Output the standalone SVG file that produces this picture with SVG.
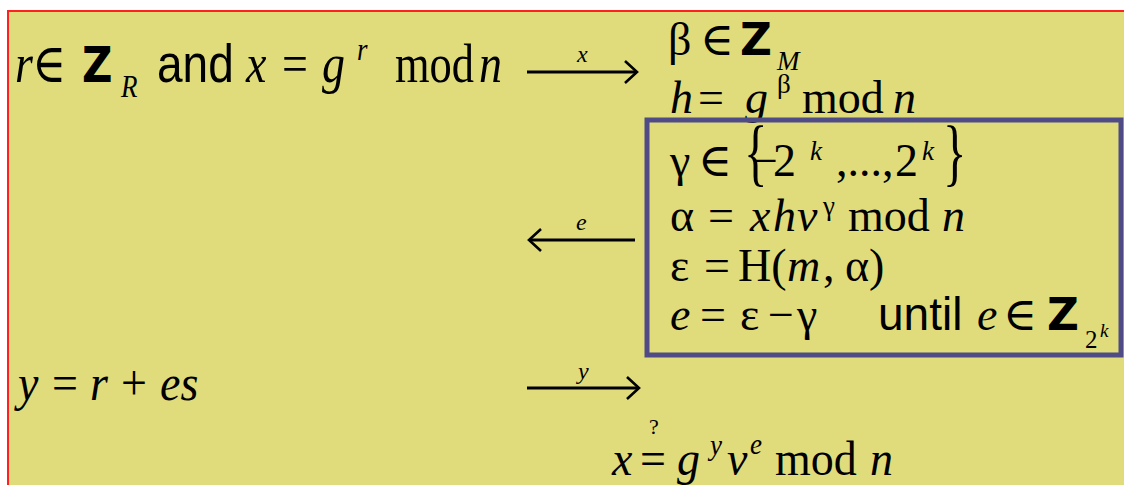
<svg xmlns="http://www.w3.org/2000/svg" width="1124" height="485" viewBox="0 0 1124 485">
<defs>
<style>
.t{font-family:"Liberation Serif","DejaVu Serif",serif;font-size:46px;fill:#000}
.i{font-style:italic}
.sa{font-family:"Liberation Sans",Arial,sans-serif;font-size:46px;fill:#000}
.z{font-family:"DejaVu Sans",sans-serif;font-weight:bold;font-size:46px;fill:#000}
.sp{font-size:27px}
.lb{font-family:"Liberation Serif",serif;font-size:24px;font-style:italic;fill:#000}
.arr{stroke:#000;stroke-width:2.8;fill:none}
</style>
<marker id="head" markerUnits="userSpaceOnUse" markerWidth="16" markerHeight="26" refX="13" refY="12" orient="auto">
<path d="M1,1 L13,12 L1,23" fill="none" stroke="#000" stroke-width="2.6"/>
</marker>
</defs>
<rect x="0" y="0" width="1124" height="485" fill="#fff"/>
<rect x="8" y="11" width="1120" height="480" fill="#E0DC7C" stroke="#FF2020" stroke-width="2"/>

<g id="prover-commit" transform="matrix(1,0,0,1.18,0,-14.76)">
<text class="t i" x="15" y="82">r</text>
<text class="t" x="32" y="82">∈</text>
<text class="z" x="82" y="82" style="font-size:42px">Z</text>
<text class="t i sp" x="121" y="94.7">R</text>
<text class="sa" x="157" y="82">and</text>
<text class="t i" x="246" y="82">x</text>
<text class="t" x="282" y="82">=</text>
<text class="t i" x="322" y="82">g</text>
<text class="t i sp" x="357" y="63">r</text>
<text class="t" x="395" y="82" textLength="79" lengthAdjust="spacingAndGlyphs">mod</text>
<text class="t i" x="479" y="82">n</text>
</g>

<g id="verifier-setup">
<text class="t" x="668" y="55">β</text>
<text class="t" x="700" y="55">∈</text>
<text class="z" x="740" y="55" style="font-size:44px">Z</text>
<text class="t i sp" x="777" y="70">M</text>
<text class="t i" x="670" y="113">h</text>
<text class="t" x="698" y="113">=</text>
<text class="t i" x="745" y="113">g</text>
<text class="t sp" x="777" y="93">β</text>
<text class="t" x="802" y="113">mod</text>
<text class="t i" x="893" y="113">n</text>
</g>

<g id="challenge-loop">
<rect x="647" y="120" width="474" height="235" fill="none" stroke="#4F4B86" stroke-width="5"/>
<text class="t" x="670" y="176">γ</text>
<text class="t" x="698" y="176">∈</text>
<text class="t" transform="translate(744,177) scale(0.65,1)" style="font-size:75px">{</text>
<text class="t" x="752" y="176">−</text>
<text class="t" x="773" y="176">2</text>
<text class="t i sp" x="810" y="160">k</text>
<text class="t" x="836" y="176">,...,</text>
<text class="t" x="895" y="176">2</text>
<text class="t i sp" x="922" y="160">k</text>
<text class="t" transform="translate(943,177) scale(0.65,1)" style="font-size:75px">}</text>

<text class="t" x="670" y="231">α</text>
<text class="t" x="708" y="231">=</text>
<text class="t i" x="750" y="231">x</text>
<text class="t i" x="773" y="231">h</text>
<text class="t i" x="797" y="231">v</text>
<text class="t sp" x="823" y="215">γ</text>
<text class="t" x="848" y="231">mod</text>
<text class="t i" x="942" y="231">n</text>

<text class="t" x="670" y="281">ε</text>
<text class="t" x="704" y="281">=</text>
<text class="t" x="738" y="281">H(</text>
<text class="t i" x="787" y="281">m</text>
<text class="t" x="823" y="281">,</text>
<text class="t" x="845" y="281">α)</text>

<text class="t i" x="670" y="330">e</text>
<text class="t" x="700" y="330">=</text>
<text class="t" x="740" y="330">ε</text>
<text class="t" x="768" y="330">−</text>
<text class="t" x="797" y="330">γ</text>
<text class="sa" x="878" y="330">until</text>
<text class="t i" x="977" y="330">e</text>
<text class="t" x="1003" y="330">∈</text>
<text class="z" x="1047" y="330" style="font-size:44px">Z</text>
<text class="t" x="1085" y="348" style="font-size:25px">2</text>
<text class="t i" x="1100" y="337" style="font-size:19px">k</text>
</g>

<g id="prover-response" transform="matrix(1,0,0,1.08,0,-32)">
<text class="t i" x="18" y="400">y</text>
<text class="t" x="52" y="400">=</text>
<text class="t i" x="90" y="400">r</text>
<text class="t" x="121" y="400">+</text>
<text class="t i" x="160" y="400">es</text>
</g>

<g id="verify">
<text class="t" x="649" y="434" style="font-size:22px">?</text>
<g transform="matrix(1,0,0,1.07,0,-33.25)">
<text class="t i" x="612" y="475">x</text>
<text class="t" x="640" y="475">=</text>
<text class="t i" x="677" y="475">g</text>
<text class="t i sp" x="710" y="456">y</text>
<text class="t i" x="727" y="475">v</text>
<text class="t i sp" x="750" y="455">e</text>
<text class="t" x="775" y="475">mod</text>
<text class="t i" x="870" y="475">n</text>
</g>
</g>

<g id="connectors">
<line class="arr" x1="527" y1="72" x2="637" y2="72" marker-end="url(#head)"/>
<text class="lb" x="577" y="62">x</text>
<line class="arr" x1="635" y1="240" x2="529" y2="240" marker-end="url(#head)"/>
<text class="lb" x="576" y="230">e</text>
<line class="arr" x1="527" y1="388" x2="639" y2="388" marker-end="url(#head)"/>
<text class="lb" x="578" y="379">y</text>
</g>
</svg>
